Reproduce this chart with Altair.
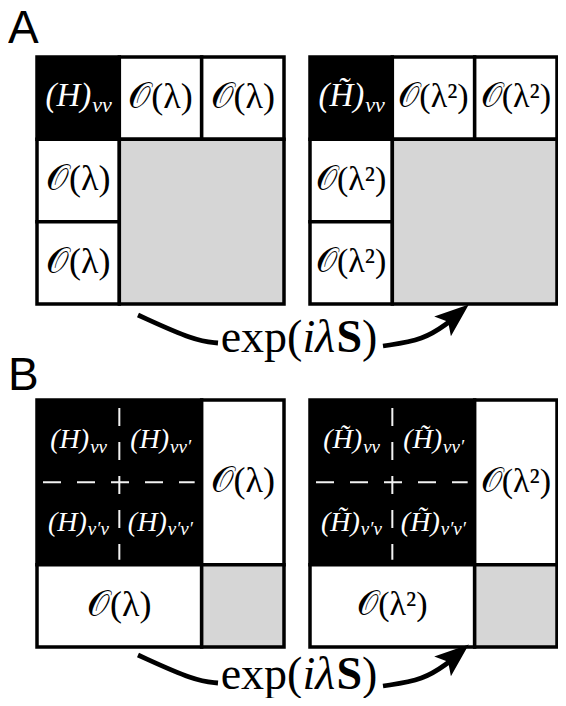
import altair as alt
import pandas as pd

# ---------------- diagram content ----------------
panel_names = ["A-left", "A-right", "B-left", "B-right"]
panel_x0 = [37, 310, 37, 310]
panel_y0 = [57, 57, 400, 400]
panel_layout = ["A", "A", "B", "B"]
panel_order = ["1", "2", "1", "2"]          # 1 -> O(λ), 2 -> O(λ²)
side = 247

# cells in thirds of the matrix side: (col0, row0, col1, row1, kind)
cells_A = [(0, 0, 1, 1, "block"), (1, 0, 2, 1, "small"), (2, 0, 3, 1, "small"),
           (0, 1, 1, 2, "small"), (0, 2, 1, 3, "small"), (1, 1, 3, 3, "rest")]
cells_B = [(0, 0, 2, 2, "block"), (2, 0, 3, 2, "small"), (0, 2, 2, 3, "small"),
           (2, 2, 3, 3, "rest")]
kind_fill = {"block": "black", "small": "white", "rest": "#d6d6d6"}

O_text = {"1": "𝒪(λ)", "2": "𝒪(λ²)"}
O_size = {"1": 36, "2": 34}
H_text = {"1": "(H)", "2": "(H\u0303)"}
B_subs = ["vv", "vv′", "v′v", "v′v′"]
B_quads = [(0, 0), (1, 0), (0, 1), (1, 1)]

letters = ["A", "B"]
letter_base = [43, 390]

exp_pieces = [("exp(", "normal"), ("iλ", "italic"), ("S", "bold"), (")", "normal")]
exp_center = [299, 299]
exp_base = [352, 689]

# curved arrows: control points (start, control, end)
curve_left = [(138, 315), (195, 341), (218, 343)]
curve_right = [(383, 346), (424, 340), (449, 322)]
head_pos = (455, 316)
row_shift = [0, 340]

# ---------------- helpers ----------------
M = {
    "normal": {"(": .333, ")": .333, "e": .444, "x": .5, "p": .5, "λ": .55, "²": .3, "𝒪": .8, "O": .722},
    "italic": {"(": .333, ")": .333, "H": .722, "v": .444, "′": .25, "i": .278, "λ": .46, "\u0303": 0},
    "bold": {"S": .556},
}


def tw(text, size, style):
    return sum(M[style].get(c, .5) for c in text) * size


rects, texts, rules, curves, heads = [], [], [], [], []
for name, ox, oy, lay, order in zip(panel_names, panel_x0, panel_y0, panel_layout, panel_order):
    u = side / 3
    cells = cells_A if lay == "A" else cells_B
    for c0, r0, c1, r1, kind in cells:
        rects.append(dict(x=ox + c0 * u, x2=ox + c1 * u, y=oy + r0 * u, y2=oy + r1 * u,
                          fill=kind_fill[kind]))
        cx = ox + (c0 + c1) * u / 2
        cy = oy + (r0 + r1) * u / 2
        if kind == "small":
            fs = O_size[order]
            texts.append(dict(x=cx, y=cy + 0.27 * fs, text=O_text[order], size=fs,
                              style="normal", font="serif", color="black", align="center"))
    if lay == "A":
        quads = [((0, 0), "vv")]
        fm, fsub = 33, 22
    else:
        quads = list(zip(B_quads, B_subs))
        fm, fsub = 28, 19
    for (qc, qr), sub in quads:
        cx = ox + (qc + 0.5) * u
        cy = oy + (qr + 0.5) * u
        wm = tw(H_text[order], fm, "italic")
        ws = tw(sub, fsub, "italic")
        split = cx + (wm - ws) / 2
        texts.append(dict(x=split, y=cy + 0.25 * fm, text=H_text[order], size=fm,
                          style="italic", font="serif", color="white", align="right"))
        texts.append(dict(x=split + 1, y=cy + 0.25 * fm + 0.25 * fsub, text=sub, size=fsub,
                          style="italic", font="serif", color="white", align="left"))
    if lay == "B":
        rules.append(dict(x=ox + u, x2=ox + u, y=oy + 8, y2=oy + 2 * u - 5))
        rules.append(dict(x=ox + 6, x2=ox + 2 * u - 7, y=oy + u, y2=oy + u))

for i, (lt, lb) in enumerate(zip(letters, letter_base)):
    texts.append(dict(x=8, y=lb, text=lt, size=46, style="normal", font="sans",
                      color="black", align="left"))
    fs = 46
    total = sum(tw(p, fs, s) for p, s in exp_pieces)
    xx = exp_center[i] - total / 2
    for p, s in exp_pieces:
        texts.append(dict(x=xx, y=exp_base[i], text=p, size=fs, style=s, font="serif",
                          color="black", align="left"))
        xx += tw(p, fs, s)
    dy = row_shift[i]
    for cid, pts in (("L", curve_left), ("R", curve_right)):
        for k, (px, py) in enumerate(pts):
            curves.append(dict(cid=f"{cid}{i}", k=k, x=px, y=py + dy))
    heads.append(dict(x=head_pos[0], y=head_pos[1] + dy))

rects, texts, rules = pd.DataFrame(rects), pd.DataFrame(texts), pd.DataFrame(rules)
curves, heads = pd.DataFrame(curves), pd.DataFrame(heads)

# ---------------- chart ----------------
PW, PH = 550, 690
X = alt.X("x:Q", scale=alt.Scale(domain=[8, 8 + PW], nice=False, zero=False), axis=None)
Y = alt.Y("y:Q", scale=alt.Scale(domain=[8, 8 + PH], nice=False, zero=False, reverse=True), axis=None)

rect_layer = alt.Chart(rects).mark_rect(stroke="black", strokeWidth=3.5).encode(
    x=X, x2="x2:Q", y=Y, y2="y2:Q", fill=alt.Fill("fill:N", scale=None))

rule_layer = alt.Chart(rules).mark_rule(color="#f2f2f2", strokeWidth=2, strokeDash=[18, 16]).encode(
    x=X, x2="x2:Q", y=Y, y2="y2:Q")

curve_layer = alt.Chart(curves).mark_line(color="black", strokeWidth=4.8, interpolate="basis").encode(
    x=X, y=Y, detail="cid:N", order="k:Q")

head_layer = alt.Chart(heads).mark_point(
    shape="M0,-1L0.72,0.9L0,0.5L-0.72,0.9Z", filled=True, color="black", opacity=1,
    size=1300, angle=50, strokeWidth=0).encode(x=X, y=Y)

text_layers = []
fonts = {"serif": "Liberation Serif", "sans": "Liberation Sans"}
for (style, font, align), g in texts.groupby(["style", "font", "align"]):
    kw = dict(align=align, baseline="alphabetic", font=fonts[font])
    if style == "italic":
        kw["fontStyle"] = "italic"
    if style == "bold":
        kw["fontWeight"] = "bold"
    text_layers.append(alt.Chart(g).mark_text(**kw).encode(
        x=X, y=Y, text="text:N", size=alt.Size("size:Q", scale=None),
        color=alt.Color("color:N", scale=None)))

chart = alt.layer(rect_layer, rule_layer, *text_layers, curve_layer, head_layer).properties(
    width=PW, height=PH, padding=0, autosize=alt.AutoSizeParams(type="none"),
    background="white"
).configure_view(stroke=None)

chart.save("out.html", embed_options={"renderer": "svg", "actions": False})
